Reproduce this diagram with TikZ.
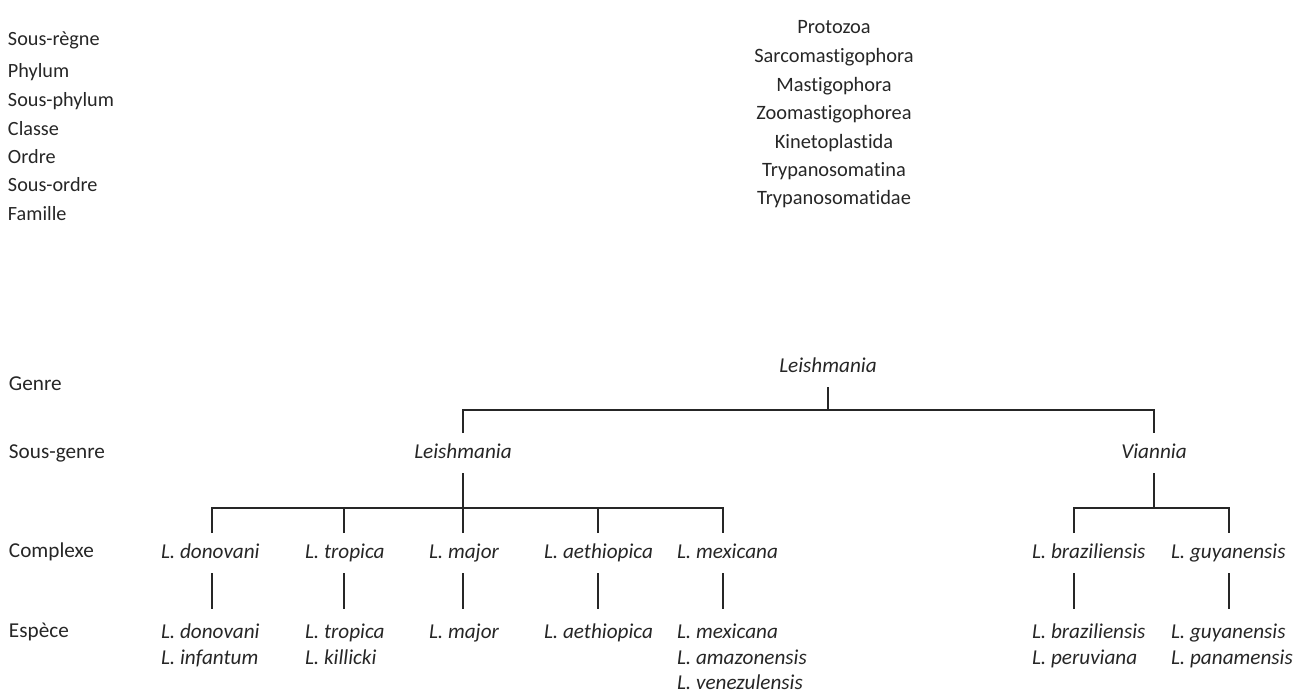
\documentclass[tikz,border=0pt]{standalone}
\usepackage{fontspec}
\setmainfont{Carlito}[Ligatures={NoCommon,NoRare,NoContextual}]
\usepackage{tikz}

\begin{document}
\begin{tikzpicture}[x=0.5pt,y=-0.5pt,-,line width=1pt,draw=black!85,text=black!85]
            \tikzstyle{rank}=[anchor=west,inner sep=0pt,font=\fontsize{10.6}{13}\selectfont]
            \tikzstyle{upper}=[anchor=west,inner sep=0pt,font=\fontsize{10.1}{12.75}\selectfont]
            \tikzstyle{higher}=[inner sep=0pt,font=\fontsize{10.2}{12.75}\selectfont]
            \tikzstyle{taxon}=[inner xsep=0pt,inner ysep=5pt,text height=7pt,text depth=2pt,font=\fontsize{10.6}{12.75}\selectfont\itshape]
            \tikzstyle{species}=[anchor=north west,align=left,inner xsep=0pt,inner ysep=5pt,font=\fontsize{10.6}{12.75}\selectfont\itshape]
            \useasboundingbox (0,0) rectangle (1304,693);

            % ranks on the left
            \foreach \num/\txt/\y in {1/Sous-règne/40, 2/Phylum/72, 3/Sous-phylum/101, 4/Classe/129, 5/Ordre/157, 6/Sous-ordre/185, 7/Famille/214}
                    \node[upper] (R-\num) at (7,\y) {\txt};
            \foreach \num/\txt/\y in {8/Genre/384, 9/Sous-genre/453, 10/Complexe/552, 11/Espèce/632}
                    \node[rank] (R-\num) at (8,\y) {\txt};

            % higher taxa
            \foreach \num/\txt/\y in {1/Protozoa/27, 2/Sarcomastigophora/57, 3/Mastigophora/86, 4/Zoomastigophorea/114, 5/Kinetoplastida/143, 6/Trypanosomatina/171, 7/Trypanosomatidae/199}
                    \node[higher] (H-\num) at (834,\y) {\txt};

            \node[taxon] (G) at (828,367) {Leishmania};
            \node[taxon] (SG-L) at (463,453) {Leishmania};
            \node[taxon] (SG-V) at (1154,453) {Viannia};

            \foreach \num/\txt/\x in {don/donovani/160, tro/tropica/304, maj/major/428, aet/aethiopica/543, mex/mexicana/676, bra/braziliensis/1031, guy/guyanensis/1170}
                    \node[taxon,anchor=west] (C-\num) at (\x,553) {L. \txt};

            \node[species] (S-don) at (160,613) {L. donovani\\L. infantum};
            \node[species] (S-tro) at (304,613) {L. tropica\\L. killicki};
            \node[species] (S-maj) at (428,613) {L. major};
            \node[species] (S-aet) at (543,613) {L. aethiopica};
            \node[species] (S-mex) at (676,613) {L. mexicana\\L. amazonensis\\L. venezulensis};
            \node[species] (S-bra) at (1031,613) {L. braziliensis\\L. peruviana};
            \node[species] (S-guy) at (1170,613) {L. guyanensis\\L. panamensis};

            \coordinate (bar-1) at (0,410);
            \coordinate (bar-2) at (0,508);
            \foreach \num/\x in {don/212, tro/344, maj/463, aet/598, mex/723, bra/1074, guy/1229}
                    \coordinate (x-\num) at (\x,0);

            \draw (G.south) -- (G.south |- bar-1);
            \draw (SG-L.north) |- (SG-V.north |- bar-1) -- (SG-V.north);

            \draw (SG-L.south) -- (SG-L.south |- bar-2);
            \draw (C-don.north -| x-don) |- (x-mex |- bar-2) -- (C-mex.north -| x-mex);
            \foreach \num in {tro, maj, aet}
                \draw (C-\num.north -| x-\num) -- (x-\num |- bar-2);

            \draw (SG-V.south) -- (SG-V.south |- bar-2);
            \draw (C-bra.north -| x-bra) |- (x-guy |- bar-2) -- (C-guy.north -| x-guy);

            \foreach \num in {don, tro, maj, aet, mex, bra, guy}
                \draw (C-\num.south -| x-\num) -- ([yshift=2pt]S-\num.north -| x-\num);
        \end{tikzpicture}
\end{document}
